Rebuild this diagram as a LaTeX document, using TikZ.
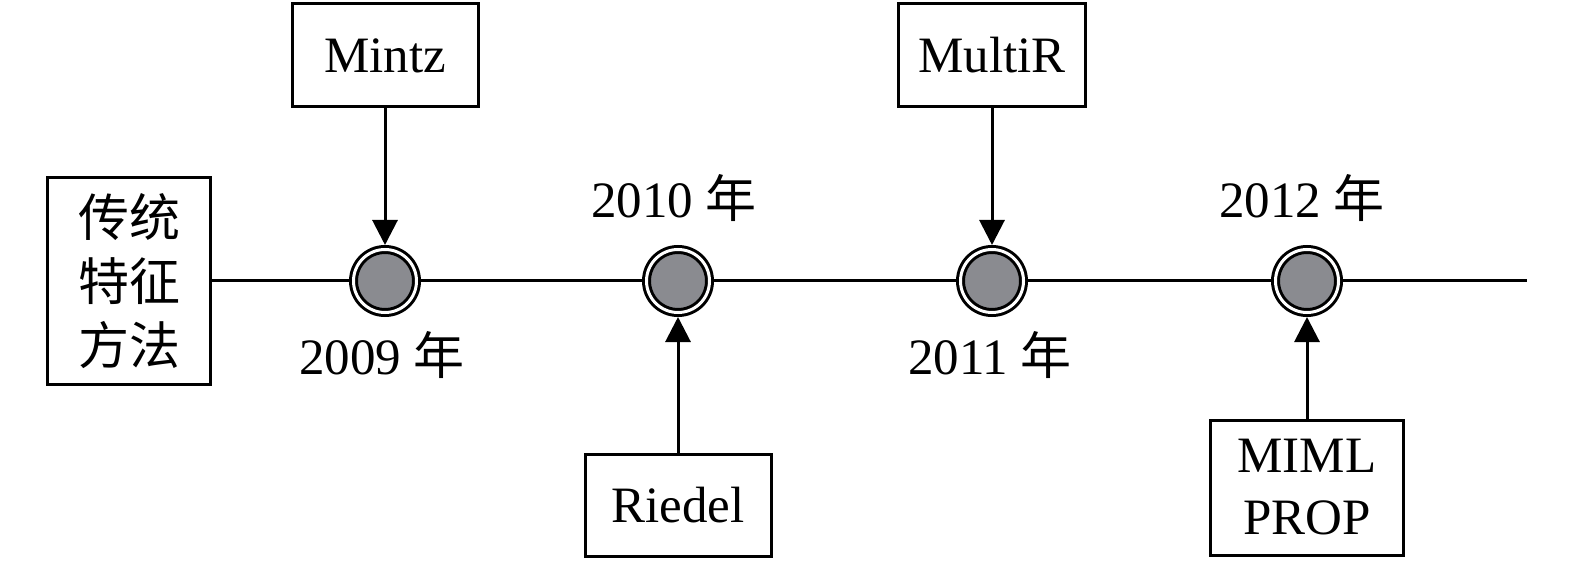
\documentclass[tikz,border=0pt]{standalone}
\usepackage{fontspec}
\setmainfont{Liberation Serif}
\newfontfamily\cjk{Noto Sans CJK SC}
\usetikzlibrary{arrows.meta,backgrounds}
\definecolor{dotgray}{RGB}{138,139,144}
\begin{document}
\begin{tikzpicture}[x=1bp,y=-1bp,
  every node/.style={font=\fontsize{51bp}{62bp}\selectfont, inner sep=0pt},
  box/.style={draw, line width=3bp, align=center},
  dot/.style={circle, draw=black, fill=dotgray, line width=3bp, double=white,
    double distance=3bp, minimum size=63bp, outer sep=4.5bp},
  arr/.style={line width=3bp, -{Triangle[length=25bp,width=25bp]}},
  tl/.style={line width=3bp}]
\useasboundingbox (0,0) rectangle (1575,561);

% left box
\node[box, minimum width=162bp, minimum height=206bp, font=\fontsize{51bp}{64bp}\selectfont\cjk]
  (L) at (129,281) {传统\\特征\\方法};

% timeline dots
\node[dot] (c1) at (385,281) {};
\node[dot] (c2) at (678,281) {};
\node[dot] (c3) at (992,281) {};
\node[dot] (c4) at (1307,281) {};
\coordinate (tend) at (1527,281);

\begin{scope}[on background layer]
\draw[tl] (L.east) -- (tend);
\end{scope}

% method boxes
\node[box, minimum width=186bp, minimum height=103bp] (mintz) at (385,55.5) {Mintz};
\node[box, minimum width=187bp, minimum height=103bp] (multir) at (992,55.5) {MultiR};
\node[box, minimum width=186bp, minimum height=102bp] (riedel) at (678,505) {Riedel};
\node[box, minimum width=193bp, minimum height=135bp, font=\fontsize{51bp}{62bp}\selectfont]
  (miml) at (1307,487.5) {MIML\\PROP};

% year labels
\node (y1) at (382,355) {2009 {\cjk 年}};
\node (y2) at (674,198) {2010 {\cjk 年}};
\node (y3) at (990,355) {2011 {\cjk 年}};
\node (y4) at (1302,198) {2012 {\cjk 年}};

% arrows
\draw[arr] (mintz) -- (c1);
\draw[arr] (multir) -- (c3);
\draw[arr] (riedel) -- (c2);
\draw[arr] (miml) -- (c4);
\end{tikzpicture}
\end{document}
